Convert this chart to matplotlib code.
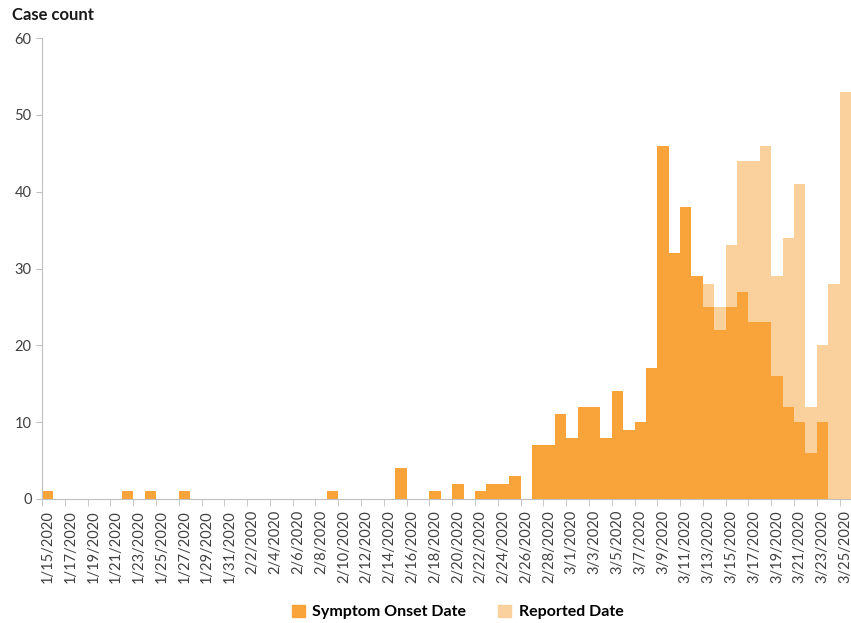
import datetime as dt

import matplotlib.pyplot as plt
import numpy as np
from matplotlib.patches import Patch


plt.rcParams['font.family'] = ['Lato', 'DejaVu Sans']

start = dt.date(2020, 1, 15)
n_days = 71
dates = [start + dt.timedelta(days=i) for i in range(n_days)]
date_labels = [f"{d.month}/{d.day}/{d.year}" for d in dates]

# symptom onset counts, 1/15 .. 3/25
onset = [1, 0, 0, 0, 0, 0, 0, 1, 0, 1,
         0, 0, 1, 0, 0, 0, 0, 0, 0, 0,
         0, 0, 0, 0, 0, 1, 0, 0, 0, 0,
         0, 4, 0, 0, 1, 0, 2, 0, 1, 2,
         2, 3, 0, 7, 7, 11, 8, 12, 12, 8,
         14, 9, 10, 17, 46, 32, 38, 29, 25, 22,
         25, 27, 23, 23, 16, 12, 10, 6, 10, 0,
         0]

# reported date counts (only where visible above onset bars)
reported = [0] * 58 + [28, 25, 33, 44, 44, 46, 29, 34, 41, 12, 20, 28, 53]

onset_color = '#F9A43B'
reported_color = '#FAD09C'
axis_color = '#BFBFBF'

fig = plt.figure(figsize=(8.51, 6.23), dpi=100)
ax = fig.add_axes([42 / 851, 1 - 499 / 623, 1 - 42 / 851, (499 - 38) / 623])

x = np.arange(n_days)
ax.bar(x, reported, width=1.0, color=reported_color, linewidth=0)
ax.bar(x, onset, width=1.0, color=onset_color, linewidth=0)

ax.set_xlim(-0.5, n_days - 0.5)
ax.set_ylim(0, 60)
ax.set_yticks([0, 10, 20, 30, 40, 50, 60])
ax.tick_params(axis='y', labelsize=10.5, colors='#404040', length=4,
               color=axis_color)

ax.set_xticks(x[::2])
ax.set_xticklabels(date_labels[::2], rotation=90, fontsize=10.5, color='#404040')
ax.set_xticks(np.arange(-0.5, n_days, 2), minor=True)
ax.tick_params(axis='x', which='major', length=0, pad=8)
ax.tick_params(axis='x', which='minor', length=5, color=axis_color)

for side in ['top', 'right']:
    ax.spines[side].set_visible(False)
for side in ['left', 'bottom']:
    ax.spines[side].set_color(axis_color)

fig.text(12 / 851, 1 - 15 / 623, 'Case count', fontsize=12, fontweight='bold',
         va='center', ha='left', color='#1a1a1a')

handles = [Patch(color=onset_color, label='Symptom Onset Date'),
           Patch(color=reported_color, label='Reported Date')]
fig.legend(handles=handles, loc='center', bbox_to_anchor=(0.538, 1 - 612 / 623),
           ncol=2, frameon=False, handlelength=0.8, handleheight=0.8,
           columnspacing=2.0, handletextpad=0.5,
           prop={'size': 11.5, 'weight': 'bold'})

fig.savefig('out.png', dpi=100)
